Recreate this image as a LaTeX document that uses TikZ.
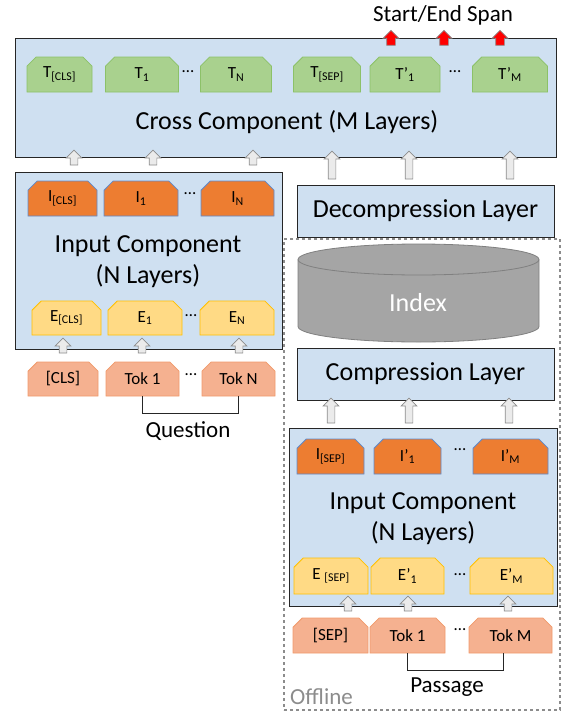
\documentclass[tikz,border=0pt]{standalone}
\usepackage{fontspec}
\setmainfont{Carlito}
\usetikzlibrary{positioning, arrows.meta, shapes.misc, shapes.arrows}

\definecolor{panelblue}{HTML}{CFE0F1}
\definecolor{panelline}{HTML}{262626}
\definecolor{tfill}{HTML}{A9D18E}
\definecolor{tline}{HTML}{8CC168}
\definecolor{ifill}{HTML}{ED7D31}
\definecolor{iline}{HTML}{5B8BD0}
\definecolor{efill}{HTML}{FFDA85}
\definecolor{eline}{HTML}{FFC000}
\definecolor{kfill}{HTML}{F5B190}
\definecolor{kline}{HTML}{F09A6C}
\definecolor{arrfill}{HTML}{EBEBEB}
\definecolor{arrline}{HTML}{8C8C8C}
\definecolor{idxfill}{HTML}{A5A5A5}
\definecolor{idxline}{HTML}{808080}
\definecolor{offgray}{HTML}{8C8C8C}

\newcommand\bigfont{\fontsize{26}{31}\selectfont}
\newcommand\midfont{\fontsize{23}{27}\selectfont}
\newcommand\tokfont{\fontsize{17}{20}\selectfont}

\begin{document}
\begin{tikzpicture}[
        x=1pt, y=-1pt,
        panel/.style={rectangle, draw=panelline, fill=panelblue, line width=0.9pt, inner sep=0pt},
        chip/.style={chamfered rectangle, chamfered rectangle corners={north west, north east},
            chamfered rectangle xsep=6pt, minimum height=35pt, inner sep=0pt, line width=0.8pt, font=\tokfont},
        tchip/.style={chip, fill=tfill, draw=tline},
        ichip/.style={chip, fill=ifill, draw=iline},
        echip/.style={chip, fill=efill, draw=eline},
        kchip/.style={chip, fill=kfill, draw=kline},
        dots/.style={font=\tokfont, inner sep=0pt},
        garrow/.style={single arrow, draw=arrline, fill=arrfill, rotate=90, inner sep=3.5pt,
            single arrow head extend=4pt, line width=0.7pt},
        rarrow/.style={garrow, fill=red, draw=arrline, inner sep=4pt, single arrow head extend=3.5pt}
    ]
    \useasboundingbox (0,0) rectangle (563,712);

    % offline part
    \node[rectangle, draw=offgray, dashed, line width=1.1pt, minimum width=276pt, minimum height=471pt, inner sep=0pt] (offline) at (422,474.5) {};
    \node[anchor=west, text=offgray, font=\midfont, inner sep=0pt] (offlbl) at (290,697) {Offline};

    % cross component
    \node[panel, minimum width=541pt, minimum height=119pt] (cross) at (285.5,97.5) {};
    \node[font=\bigfont] (crosslbl) at (287,122) {Cross Component (M Layers)};
    \node[tchip, minimum width=65pt] (tcls) at (59.5,74.5) {T\textsubscript{[CLS]}};
    \node[tchip, minimum width=73pt] (t1) at (142,74.5) {T\textsubscript{1}};
    \node[tchip, minimum width=71pt] (tn) at (236,74.5) {T\textsubscript{N}};
    \node[tchip, minimum width=67pt] (tsep) at (327,74.5) {T\textsubscript{[SEP]}};
    \node[tchip, minimum width=70pt] (tp1) at (405,74.5) {T’\textsubscript{1}};
    \node[tchip, minimum width=75pt] (tpm) at (510,74.5) {T’\textsubscript{M}};
    \node[dots] (tdots1) at (188,72) {…};
    \node[dots] (tdots2) at (455,72) {…};

    \node[font=\midfont] (span) at (443,15) {Start/End Span};
    \foreach \x in {391,444,500}
        \node[rarrow, minimum height=15pt] (red\x) at (\x,40) {};

    % question side
    \node[panel, minimum width=267pt, minimum height=177pt] (qinput) at (148.5,260.5) {};
    \node[font=\bigfont, align=center] (qlbl) at (148,262) {Input Component\\(N Layers)};
    \node[ichip, minimum width=69pt] (icls) at (62.5,198.5) {I\textsubscript{[CLS]}};
    \node[ichip, minimum width=74pt] (i1) at (141,198.5) {I\textsubscript{1}};
    \node[ichip, minimum width=73pt] (in) at (237.5,198.5) {I\textsubscript{N}};
    \node[dots] (idots) at (190,194) {…};
    \node[echip, minimum width=69pt, minimum height=34pt] (ecls) at (66.5,318) {E\textsubscript{[CLS]}};
    \node[echip, minimum width=74pt, minimum height=34pt] (e1) at (145,318) {E\textsubscript{1}};
    \node[echip, minimum width=74pt, minimum height=34pt] (en) at (237,318) {E\textsubscript{N}};
    \node[dots] (edots) at (191,316) {…};
    \node[kchip, minimum width=70pt, minimum height=34pt] (kcls) at (63,379) {[CLS]};
    \node[kchip, minimum width=73pt, minimum height=34pt] (k1) at (142.5,379) {Tok 1};
    \node[kchip, minimum width=73pt, minimum height=34pt] (kn) at (238.5,379) {Tok N};
    \node[dots] (kdots) at (191,375) {…};
    \draw[line width=0.9pt, panelline] (k1.south) -- ++(0,17) -| (kn.south);
    \node[font=\midfont] (question) at (188,431) {Question};

    \foreach \x in {63,142,239}
        \node[garrow, minimum height=15pt] (qin\x) at (\x,347.5) {};
    \foreach \x in {74,153,253}
        \node[garrow, minimum height=15pt] (qup\x) at (\x,159.5) {};

    % passage side
    \node[panel, minimum width=257pt, minimum height=52pt, font=\bigfont] (decomp) at (425.5,211) {Decompression Layer};
    \foreach \x in {332,409,510}
        \node[garrow, minimum height=28pt] (pup\x) at (\x,167) {};

    \fill[idxfill, draw=idxline, line width=0.8pt]
        (298,259.5) -- (298,326.5) arc[start angle=180, end angle=0, x radius=120.5, y radius=15.5]
        -- (539,259.5) arc[start angle=0, end angle=-180, x radius=120.5, y radius=15.5] -- cycle;
    \draw[idxline, line width=0.8pt] (298,259.5) arc[start angle=180, end angle=0, x radius=120.5, y radius=15.5];
    \node[font=\bigfont, text=white] (index) at (418,303) {Index};

    \node[panel, minimum width=257pt, minimum height=52pt, font=\bigfont] (comp) at (425.5,374) {Compression Layer};
    \foreach \x in {331,409,509}
        \node[garrow, minimum height=25pt] (pcomp\x) at (\x,412.5) {};

    \node[panel, minimum width=268pt, minimum height=178pt] (pinput) at (423,517) {};
    \node[font=\bigfont, align=center] (plbl) at (423,518.5) {Input Component\\(N Layers)};
    \node[ichip, minimum width=67pt] (isep) at (330.5,456.5) {I\textsubscript{[SEP]}};
    \node[ichip, minimum width=67pt] (ip1) at (407.5,456.5) {I’\textsubscript{1}};
    \node[ichip, minimum width=75pt] (ipm) at (510.5,456.5) {I’\textsubscript{M}};
    \node[dots] (pidots) at (460,450) {…};
    \node[echip, minimum width=74pt, minimum height=36pt] (esep) at (331,576) {E \textsubscript{[SEP]}};
    \node[echip, minimum width=73pt, minimum height=36pt] (ep1) at (407.5,576) {E’\textsubscript{1}};
    \node[echip, minimum width=83pt, minimum height=36pt] (epm) at (511.5,576) {E’\textsubscript{M}};
    \node[dots] (pedots) at (460,575) {…};
    \node[kchip, minimum width=75pt] (ksep) at (330.5,635.5) {[SEP]};
    \node[kchip, minimum width=75pt] (kp1) at (407.5,635.5) {Tok 1};
    \node[kchip, minimum width=83pt] (kpm) at (510.5,635.5) {Tok M};
    \node[dots] (pkdots) at (460,630) {…};
    \draw[line width=0.9pt, panelline] (kp1.south) -- ++(0,17) -| ([xshift=-7.5pt]kpm.south);
    \node[font=\midfont] (passage) at (447,687) {Passage};

    \foreach \x in {348,408,508}
        \node[garrow, minimum height=15pt] (pin\x) at (\x,605.5) {};

\end{tikzpicture}
\end{document}
